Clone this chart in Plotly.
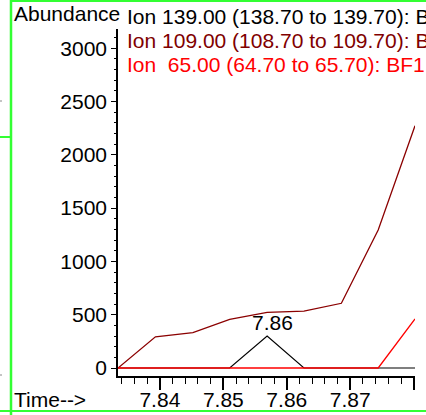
import plotly.graph_objects as go

# ---- data ----
times = [7.8334, 7.8393, 7.8452, 7.8510, 7.8569, 7.8627, 7.8686, 7.8744, 7.8802]
ion139 = [0, 0, 0, 0, 300, 0, 0, 0, 0]
ion109 = [0, 293, 331, 457, 522, 534, 607, 1294, 2272]
ion65 = [0, 0, 0, 0, 0, 0, 0, 0, 460]
legend_labels = [
    "Ion 139.00 (138.70 to 139.70): BF1.D",
    "Ion 109.00 (108.70 to 109.70): BF1.D",
    "Ion  65.00 (64.70 to 65.70): BF1.D",
]
legend_colors = ["#000000", "#800000", "#ff0000"]
peak_time = 7.8569
peak_value = 300
peak_label = "7.86"
x_major = [7.84, 7.85, 7.86, 7.87, 7.88]
x_major_text = ["7.84", "7.85", "7.86", "7.87", ""]
y_major = [0, 500, 1000, 1500, 2000, 2500, 3000]

W, H = 426, 415
L, R, T, B = 118, 415, 29, 376  # plot area in pixels
FONT = "Liberation Sans, Arial, Helvetica, sans-serif"


def px(x):
    return (x - L) / (R - L)


def py(y):
    return (B - y) / (B - T)


fig = go.Figure()
fig.add_trace(go.Scatter(x=times, y=ion139, mode="lines",
                         line=dict(color="#000000", width=1.2), showlegend=False))
fig.add_trace(go.Scatter(x=times, y=ion109, mode="lines",
                         line=dict(color="#8b0000", width=1.3), showlegend=False))
fig.add_trace(go.Scatter(x=times, y=ion65, mode="lines",
                         line=dict(color="#ff0000", width=1.3), showlegend=False))

annotations = []
annotations.append(dict(text="Abundance", xref="paper", yref="paper", x=px(12), y=py(14),
                        xanchor="left", yanchor="middle", showarrow=False,
                        font=dict(size=21, color="#000", family=FONT)))
for i, (lab, col) in enumerate(zip(legend_labels, legend_colors)):
    annotations.append(dict(text=lab.replace(" ", "&nbsp;"), xref="paper", yref="paper",
                            x=px(125), y=py(16 + 24 * i),
                            xanchor="left", yanchor="middle", showarrow=False,
                            font=dict(size=21, color=col, family=FONT)))
annotations.append(dict(text="Time-->", xref="paper", yref="paper", x=px(12), y=py(399),
                        xanchor="left", yanchor="middle", showarrow=False,
                        font=dict(size=21, color="#000", family=FONT)))
annotations.append(dict(text=peak_label, x=peak_time, y=peak_value, xref="x", yref="y",
                        xanchor="center", yanchor="bottom", showarrow=False, xshift=5,
                        font=dict(size=21, color="#000", family=FONT)))

green = "#33ff33"
shapes = [
    dict(type="line", xref="paper", yref="paper", x0=px(11), x1=px(11), y0=py(0), y1=py(415),
         line=dict(color=green, width=2.5)),
    dict(type="line", xref="paper", yref="paper", x0=px(11), x1=px(430), y0=py(1), y1=py(1),
         line=dict(color=green, width=2)),
    dict(type="line", xref="paper", yref="paper", x0=px(-2), x1=px(430), y0=py(411), y1=py(411),
         line=dict(color=green, width=2)),
    dict(type="line", xref="paper", yref="paper", x0=px(-2), x1=px(10), y0=py(137), y1=py(137),
         line=dict(color=green, width=2)),
    dict(type="line", xref="paper", yref="paper", x0=px(0), x1=px(2), y0=py(101), y1=py(101),
         line=dict(color="#888", width=1)),
    dict(type="line", xref="paper", yref="paper", x0=px(0), x1=px(2), y0=py(375), y1=py(375),
         line=dict(color="#888", width=1)),
]

fig.update_layout(
    width=W, height=H,
    margin=dict(l=L, r=W - R, t=T, b=H - B, pad=0, autoexpand=False),
    paper_bgcolor="white", plot_bgcolor="white",
    font=dict(family=FONT, size=21, color="#000"),
    annotations=annotations, shapes=shapes,
    showlegend=False,
)
fig.update_xaxes(
    automargin=False,
    range=[7.8334, 7.8802], showgrid=False, zeroline=False,
    showline=True, linecolor="#000", linewidth=1.5,
    ticks="outside", ticklen=12, tickwidth=1.5, tickcolor="#000",
    tickvals=x_major, ticktext=x_major_text,
    ticklabelstandoff=-8,
    tickfont=dict(size=21, family=FONT, color="#000"),
    minor=dict(ticks="outside", ticklen=6, tickwidth=1.2, tickcolor="#000", dtick=0.002,
               tick0=7.84, showgrid=False),
)
fig.update_yaxes(
    automargin=False,
    range=[-75, 3180], showgrid=False, zeroline=False,
    showline=True, linecolor="#000", linewidth=1.5,
    ticks="outside", ticklen=5, tickwidth=1.3, tickcolor="#000",
    tickvals=y_major, ticktext=[str(v) for v in y_major],
    tickfont=dict(size=21, family=FONT, color="#000"),
    minor=dict(ticks="outside", ticklen=2, tickwidth=1, tickcolor="#000", dtick=100,
               tick0=0, showgrid=False),
)

fig.write_html("out.html", post_script="document.body.style.margin='0';",
               config={"displayModeBar": False})
